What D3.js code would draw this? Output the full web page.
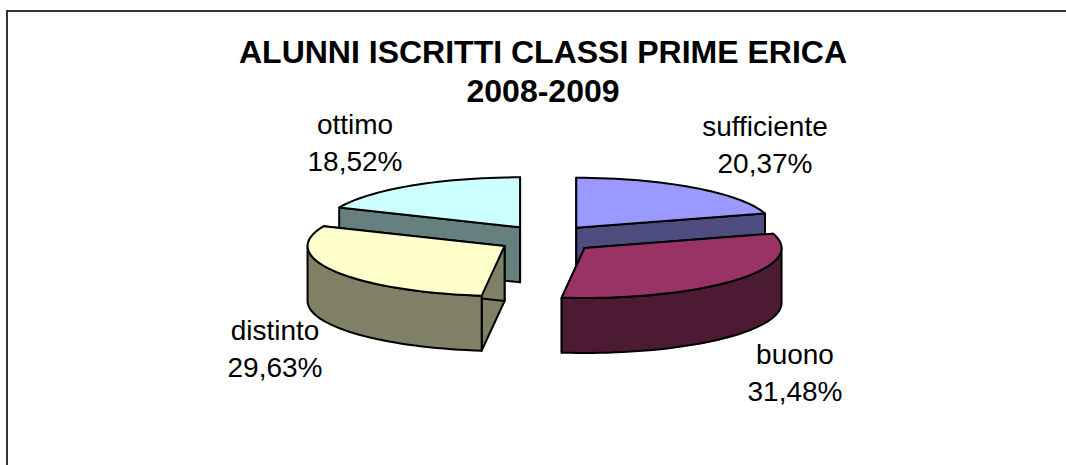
<!DOCTYPE html>
<html>
<head>
<meta charset="utf-8">
<script src="https://cdn.jsdelivr.net/npm/d3@7"></script>
<style>
    html, body { margin: 0; padding: 0; background: #fff; }
    svg { display: block; }
    text { font-family: "Liberation Sans", Arial, sans-serif; fill: #000; }
</style>
</head>
<body>
<div id="chart"></div>
<script>
// Chart values
const categories = ["sufficiente", "buono", "distinto", "ottimo"];
const counts = [11, 17, 16, 10];
const topColors = ["#9999ff", "#993366", "#ffffcc", "#ccffff"];
const sideColors = ["#4d4d80", "#4d1a33", "#808066", "#668080"];
const titleLines = ["ALUNNI ISCRITTI CLASSI PRIME ERICA", "2008-2009"];

const width = 1066, height = 465;

// pie geometry
const cx = 547, cy = 239;
const rx = 197, ry = 50, depth = 55, explode = 49, explodeY = 14;

// label anchor for each slice
const labelPos = [[765, 136], [795, 364], [275, 340], [355, 134]];

const svg = d3.select("#chart").append("svg")
    .attr("width", width)
    .attr("height", height);

// frame, only the top and left lines are inside the picture
svg.append("path")
    .attr("d", "M7,465V11H1066")
    .attr("fill", "none")
    .attr("stroke", "#333")
    .attr("stroke-width", 2);

svg.selectAll(".title")
    .data(titleLines)
    .enter().append("text")
    .attr("class", "title")
    .attr("x", 543)
    .attr("y", (d, i) => 63 + i * 39)
    .attr("text-anchor", "middle")
    .attr("font-weight", "bold")
    .attr("font-size", 32)
    .text(d => d);

let pie = d3.pie().sort(null);
let slices = pie(counts);

let locale = d3.formatLocale({decimal: ",", thousands: ".", grouping: [3], currency: ["", ""]});
let percent = locale.format(".2%");
let total = d3.sum(counts);

// point on the flattened pie, angle measured clockwise from the top
function rim(o, a, drop) {
    return [o[0] + rx * Math.sin(a), o[1] - ry * Math.cos(a) + (drop || 0)];
}

function arcPoints(o, a0, a1, drop) {
    let n = Math.max(2, Math.ceil(Math.abs(a1 - a0) / 0.04));
    return d3.range(n + 1).map(i => rim(o, a0 + (a1 - a0) * i / n, drop));
}

function poly(points) {
    return d3.line()(points) + "Z";
}

// apex of every slice after it is pulled out along its middle angle
slices.forEach(s => {
    let mid = (s.startAngle + s.endAngle) / 2;
    s.apex = [cx + explode * Math.sin(mid), cy - explodeY * Math.cos(mid)];
});

function drawSlice(s) {
    let g = svg.append("g")
        .attr("stroke", "#000")
        .attr("stroke-width", 2)
        .attr("stroke-linejoin", "round");
    let side = sideColors[s.index];
    let o = s.apex;

    // the two cut faces
    [s.startAngle, s.endAngle].forEach(a => {
        let p = rim(o, a);
        g.append("path")
            .attr("fill", side)
            .attr("d", poly([o, p, [p[0], p[1] + depth], [o[0], o[1] + depth]]));
    });

    // outer wall, only the part turned towards the viewer
    let a0 = Math.max(s.startAngle, Math.PI / 2);
    let a1 = Math.min(s.endAngle, 3 * Math.PI / 2);
    if (a1 > a0) {
        g.append("path")
            .attr("fill", side)
            .attr("d", poly(arcPoints(o, a0, a1).concat(arcPoints(o, a1, a0, depth))));
    }

    // top face
    g.append("path")
        .attr("fill", topColors[s.index])
        .attr("d", poly([o].concat(arcPoints(o, s.startAngle, s.endAngle))));
}

// back slices first
[3, 0, 2, 1].forEach(i => drawSlice(slices[i]));

let labels = svg.selectAll(".label")
    .data(slices)
    .enter().append("text")
    .attr("class", "label")
    .attr("text-anchor", "middle")
    .attr("font-size", 28);

labels.append("tspan")
    .attr("x", d => labelPos[d.index][0])
    .attr("y", d => labelPos[d.index][1])
    .text(d => categories[d.index]);

labels.append("tspan")
    .attr("x", d => labelPos[d.index][0])
    .attr("y", d => labelPos[d.index][1] + 37)
    .text(d => percent(d.value / total));
</script>
</body>
</html>
